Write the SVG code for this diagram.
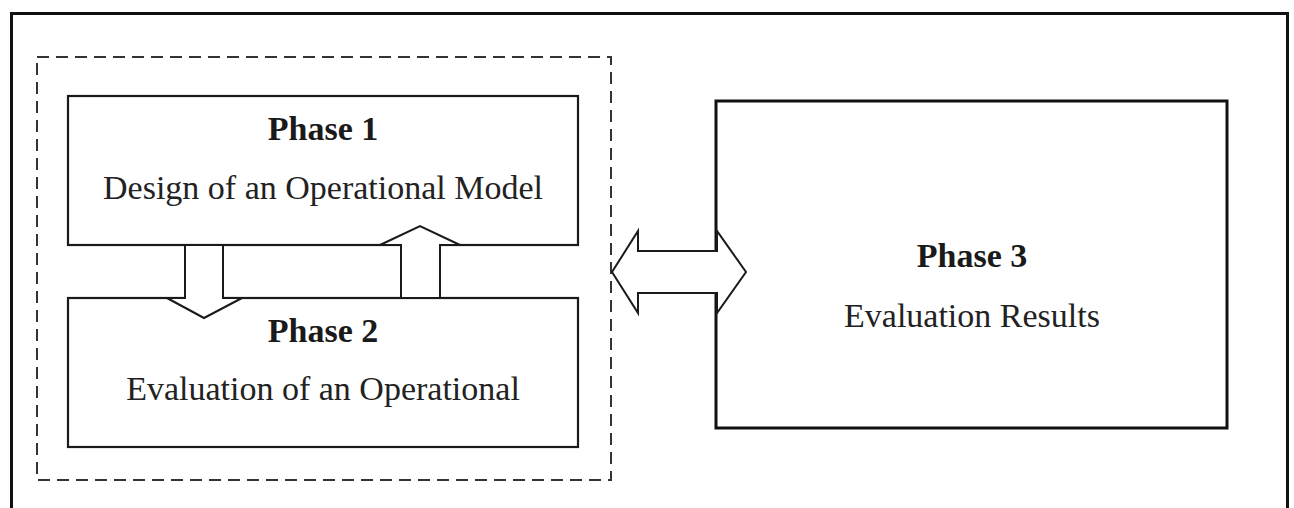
<svg xmlns="http://www.w3.org/2000/svg" width="1294" height="508" viewBox="0 0 1294 508">
  <style>
    .box { fill: #fff; stroke: #1a1a1a; stroke-width: 2.2; }
    .box3 { fill: #fff; stroke: #111; stroke-width: 3; }
    .arrow { fill: #fff; stroke: #1a1a1a; stroke-width: 2; stroke-linejoin: miter; }
    .title { font-family: "Liberation Serif", "Times New Roman", serif; font-weight: bold; font-size: 34px; fill: #1a1a1a; text-anchor: middle; }
    .label { font-family: "Liberation Serif", "Times New Roman", serif; font-size: 34px; fill: #222; text-anchor: middle; }
  </style>
  <rect width="1294" height="508" fill="#fff"/>
  <g id="frame">
    <rect x="11.5" y="13.5" width="1276" height="520" fill="none" stroke="#111" stroke-width="3"/>
  </g>
  <g id="group-phase12">
    <rect x="37" y="57" width="574" height="423" fill="none" stroke="#333" stroke-width="2" stroke-dasharray="12 7"/>
  </g>
  <g id="phase1">
    <rect class="box" x="68" y="96" width="510" height="149"/>
    <text class="title" x="323" y="140">Phase 1</text>
    <text class="label" x="323" y="199">Design of an Operational Model</text>
  </g>
  <g id="phase2">
    <rect class="box" x="68" y="298" width="510" height="149"/>
    <text class="title" x="323" y="342">Phase 2</text>
    <text class="label" x="323" y="400">Evaluation of an Operational</text>
  </g>
  <g id="phase3">
    <rect class="box3" x="716" y="101" width="511" height="327"/>
    <text class="title" x="972" y="267">Phase 3</text>
    <text class="label" x="972" y="327">Evaluation Results</text>
  </g>
  <g id="connectors">
    <polygon class="arrow" points="185,245 223,245 223,298 242,298 204,318 167,298 185,298"/>
    <polygon class="arrow" points="401,298 440,298 440,245 460,245 420,226 380,245 401,245"/>
    <polygon class="arrow" points="612,272 638,231 638,251 717,251 717,231 746,272 717,313 717,293 638,293 638,313"/>
  </g>
</svg>
